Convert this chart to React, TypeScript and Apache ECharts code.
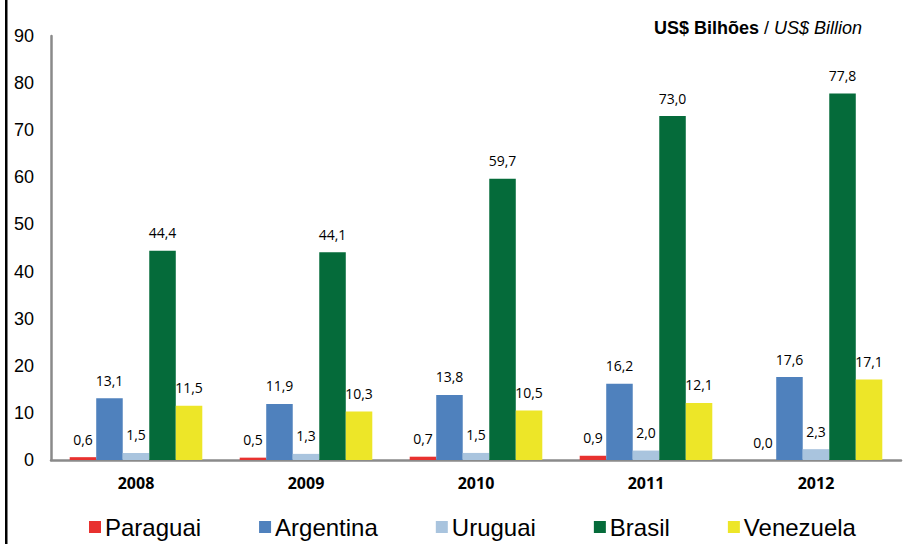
import React, { useEffect, useRef } from "react";
import * as echarts from "echarts";

const categories = ["2008", "2009", "2010", "2011", "2012"];
const seriesNames = ["Paraguai", "Argentina", "Uruguai", "Brasil", "Venezuela"];
const paraguai = [0.6, 0.5, 0.7, 0.9, 0.0];
const argentina = [13.1, 11.9, 13.8, 16.2, 17.6];
const uruguai = [1.5, 1.3, 1.5, 2.0, 2.3];
const brasil = [44.4, 44.1, 59.7, 73.0, 77.8];
const venezuela = [11.5, 10.3, 10.5, 12.1, 17.1];
const colors = ["#E8312F", "#4F81BD", "#A9C4DE", "#056B3A", "#EDE628"];

export default function App() {
  const ref = useRef<HTMLDivElement>(null);
  useEffect(() => {
    document.body.style.margin = "0";
    const chart = echarts.init(ref.current!, null, { renderer: "svg" });
    const data = [paraguai, argentina, uruguai, brasil, venezuela];
    chart.setOption({
      animation: false,
      backgroundColor: "#ffffff",
      title: {
        text: "{b|US$ Bilhões}{n| / }{i|US$ Billion}",
        right: 36,
        top: 14,
        textStyle: {
          fontWeight: "normal",
          rich: {
            b: { fontFamily: "Liberation Sans", fontWeight: "bold", fontSize: 18, color: "#000" },
            n: { fontFamily: "Liberation Sans", fontWeight: "normal", fontSize: 18, color: "#000" },
            i: { fontFamily: "Liberation Sans", fontWeight: "normal", fontStyle: "italic", fontSize: 18, color: "#000" },
          },
        },
      },
      legend: {
        top: 510,
        left: 84,
        itemWidth: 12,
        itemHeight: 12,
        itemGap: 58,
        icon: "rect",
        textStyle: { fontFamily: "Liberation Sans", fontSize: 24, color: "#000", padding: [0, 0, 0, -1] },
        data: seriesNames,
      },
      grid: { left: 51, right: 2, top: 36, bottom: 84 },
      xAxis: {
        type: "category",
        data: categories,
        axisLine: { lineStyle: { color: "#8a8a8a", width: 2.5 } },
        axisTick: { show: false },
        axisLabel: {
          fontFamily: "Open Sans",
          fontWeight: "bold",
          fontSize: 16,
          color: "#000",
          margin: 15,
        },
      },
      yAxis: {
        type: "value",
        min: 0,
        max: 90,
        interval: 10,
        axisLine: { show: true, lineStyle: { color: "#8a8a8a", width: 2.5 } },
        axisTick: { show: false },
        splitLine: { show: false },
        axisLabel: { fontFamily: "Liberation Sans", fontSize: 18, color: "#000", margin: 17 },
      },
      graphic: [
        { type: "rect", shape: { x: 5, y: 0, width: 2.5, height: 544 }, style: { fill: "#000" } },
      ],
      series: seriesNames.map((name, i) => ({
        name,
        type: "bar",
        data: data[i],
        barGap: "0%",
        barCategoryGap: "22%",
        itemStyle: { color: colors[i] },
        label: {
          show: true,
          position: "top",
          distance: 11,
          fontFamily: "Open Sans",
          fontSize: 14,
          color: "#000",
          formatter: (p: any) => Number(p.value).toFixed(1).replace(".", ","),
        },
      })),
    });
    return () => chart.dispose();
  }, []);
  return <div ref={ref} style={{ width: 903, height: 544 }} />;
}
